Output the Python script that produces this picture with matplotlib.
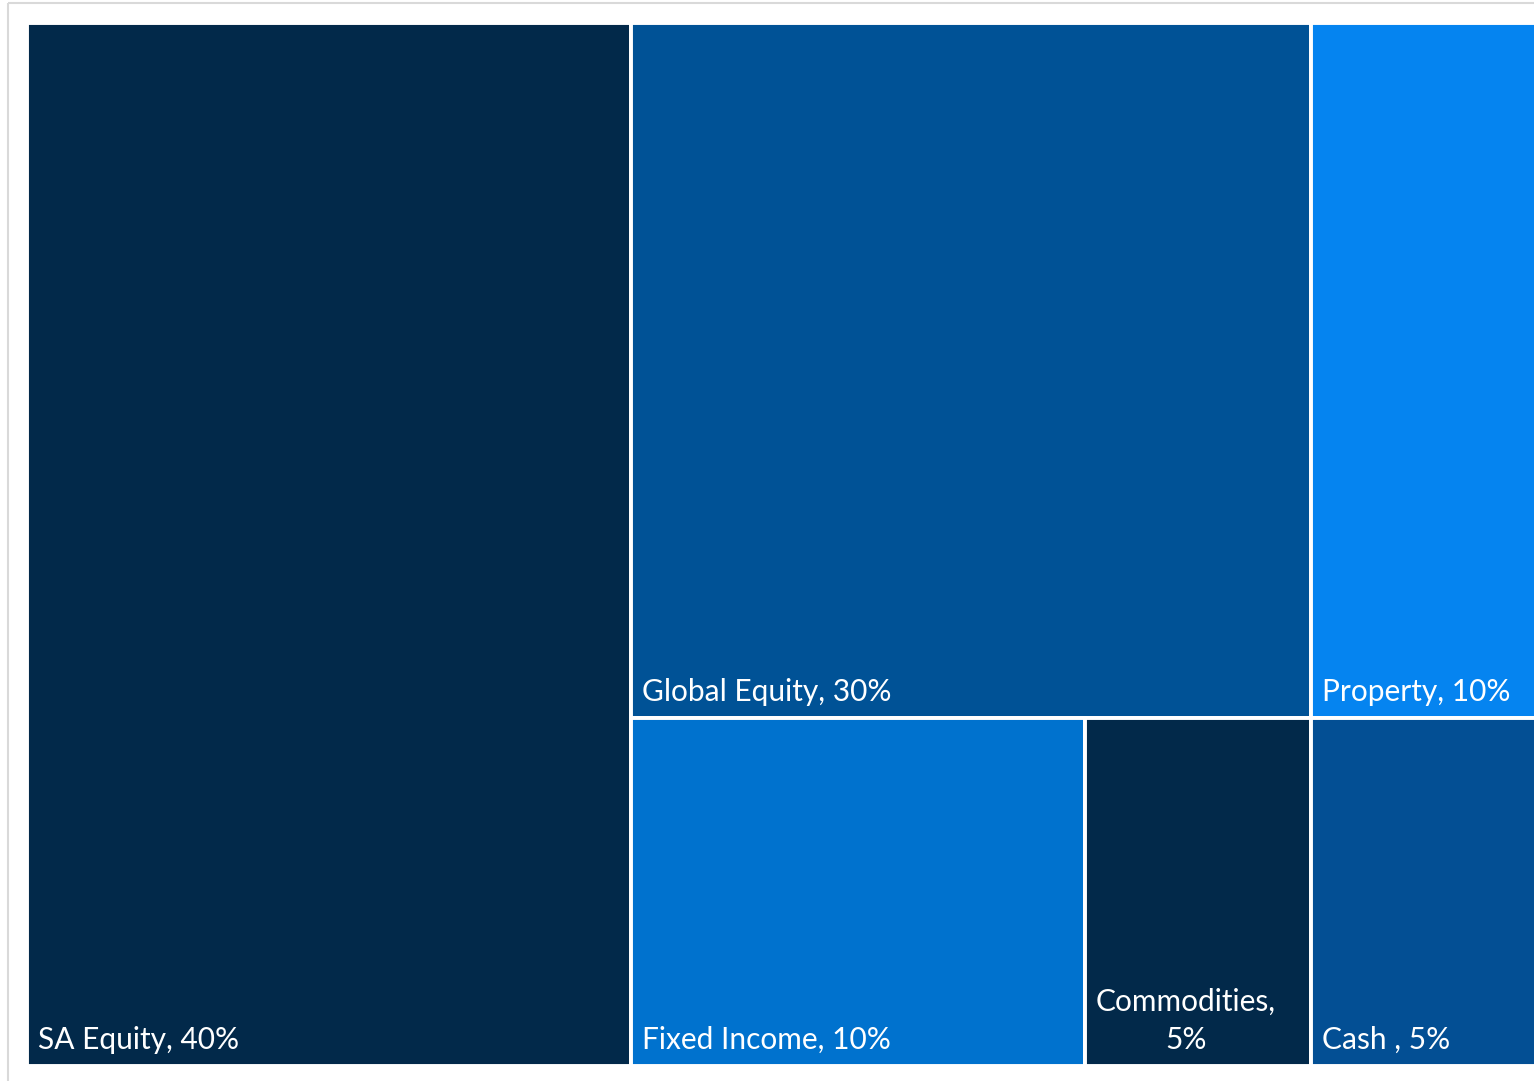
import matplotlib
matplotlib.use("Agg")
import matplotlib.pyplot as plt
from matplotlib.patches import Rectangle

labels = ["SA Equity, 40%", "Global Equity, 30%", "Property, 10%",
          "Fixed Income, 10%", "Commodities,\n5%", "Cash , 5%"]
values = [40, 30, 10, 10, 5, 5]
colors = ["#02294a", "#005296", "#0584f0", "#0072ce", "#02294a", "#034f94"]

# layout groups (indices): first column, then two rows in the remaining area
column_first = [0]
rows_rest = [[1, 2], [3, 4, 5]]

fig = plt.figure(figsize=(15.34, 10.81), dpi=100)
ax = fig.add_axes([0, 0, 1, 1])
ax.set_xlim(0, 1534)
ax.set_ylim(1081, 0)
ax.axis("off")

# outer frame (light gray)
ax.plot([8, 8], [3, 1081], color="#d9d9d9", lw=1.5, solid_capstyle="butt")
ax.plot([8, 1534], [3, 3], color="#d9d9d9", lw=1.5, solid_capstyle="butt")

X0, Y0, W, H = 27, 23, 1511, 1043
total = sum(values)

rects = {}
cw = W * sum(values[i] for i in column_first) / total
rects[0] = (X0, Y0, cw, H)
rx, rw = X0 + cw, W - cw
rest_total = sum(values[i] for r in rows_rest for i in r)
y = Y0
for r in rows_rest:
    rsum = sum(values[i] for i in r)
    rh = H * rsum / rest_total
    x = rx
    for i in r:
        w = rw * values[i] / rsum
        rects[i] = (x, y, w, rh)
        x += w
    y += rh

for i, (x, y, w, h) in rects.items():
    ax.add_patch(Rectangle((x, y), w, h, facecolor=colors[i],
                           edgecolor="white", lw=2.8))
    ax.text(x + 11, y + h - 17, labels[i], color="white",
            fontsize=21.5, family="Lato", ha="left", va="baseline",
            multialignment="center", linespacing=1.45)

fig.savefig("out.png", dpi=100, facecolor="white")
